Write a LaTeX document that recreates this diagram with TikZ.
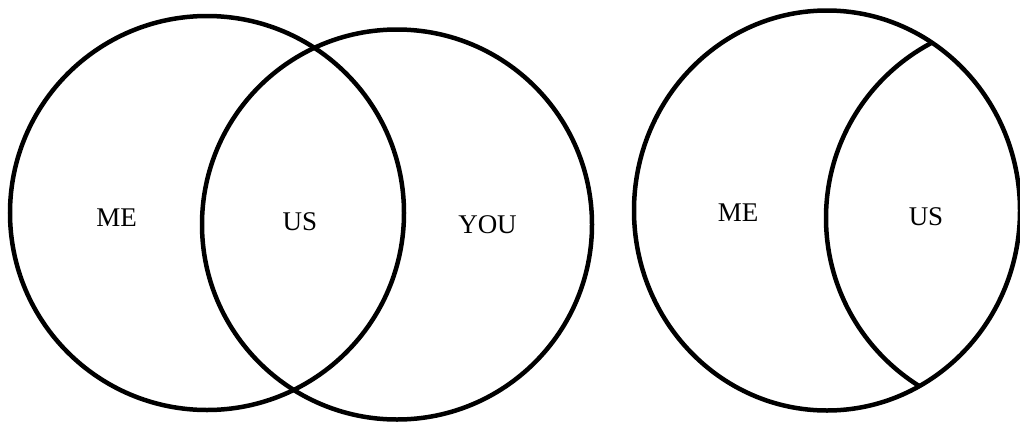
\documentclass[tikz,border=0pt]{standalone}
\usepackage{fontspec}
\setmainfont{Liberation Serif}
\begin{document}
\begin{tikzpicture}[x=1pt,y=-1pt,
  ring/.style={draw=black,line width=4.5pt},
  lbl/.style={inner sep=0pt,font=\fontsize{27}{27}\selectfont}]
\useasboundingbox[fill=white] (0,0) rectangle (1020,426);
% left figure
\draw[ring] (207,213) circle[radius=197];
\draw[ring] (397,224.5) circle[radius=195];
\node[lbl] (me1) at (116.5,217.5) {ME};
\node[lbl] (us1) at (300,222) {US};
\node[lbl] (you) at (487.5,225) {YOU};
% right figure
\draw[ring] (827,210.5) ellipse[x radius=193,y radius=200];
\begin{scope}
  \clip (827,210.5) ellipse[x radius=193,y radius=200];
  \draw[ring] (1024,218) circle[radius=198];
\end{scope}
\node[lbl] (me2) at (738,213) {ME};
\node[lbl] (us2) at (926,217) {US};
\end{tikzpicture}
\end{document}
